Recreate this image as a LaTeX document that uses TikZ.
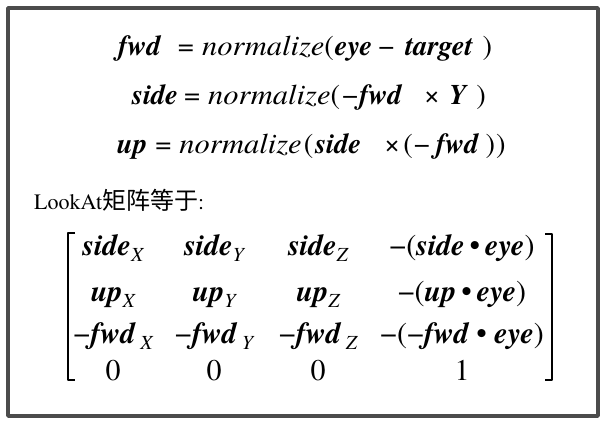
\documentclass[tikz,border=0pt]{standalone}
\usepackage{fontspec}
\newfontfamily\timesfont{texgyretermes}[Extension=.otf, UprightFont=*-regular, BoldFont=*-bold, ItalicFont=*-italic, BoldItalicFont=*-bolditalic]
\newfontfamily\widefont{texgyretermes}[Extension=.otf, UprightFont=*-italic, FakeStretch=1.07]
\newfontfamily\cjkfont{Noto Sans CJK SC}
% bold italic vector names, plain italic function name, small index letters
\newcommand{\vb}[1]{{\bfseries\itshape #1}}
\newcommand{\nrm}{{\widefont normalize}}
\newcommand{\idx}[1]{\raisebox{-0.2em}{\fontsize{20}{20}\selectfont\itshape #1}}
\tikzset{
  eqn/.style={anchor=base west, inner sep=0pt, font=\timesfont\fontsize{28.5}{34}\selectfont},
  cell/.style={anchor=base, inner sep=0pt, font=\timesfont\fontsize{30}{36}\selectfont},
  caption/.style={anchor=base west, inner sep=0pt, font=\timesfont\fontsize{22}{26}\selectfont}
}
\begin{document}
\begin{tikzpicture}[x=1pt, y=-1pt, line join=round, line cap=round]
	% Define parameters
	\def\colA{113} % column centres of the matrix
	\def\colB{214}
	\def\colC{318}
	\def\colD{462}
	
	% Page and frame
	\fill[white] (0,0) rectangle (606,424);
	\useasboundingbox (0,0) rectangle (606,424);
	\draw[line width=3.5pt, black!70] (8,8) rectangle (598,416);
	
	% The three equations
	\node[eqn] (fwdeq) at (118,55) {\vb{fwd}\hspace{17pt}=\hspace{8pt}\nrm(\hspace{1pt}\vb{eye}\hspace{6pt}−\hspace{11pt}\vb{target}\hspace{10pt})};
	\node[eqn] (sideeq) at (132,104) {\vb{side}\hspace{6pt}=\hspace{8pt}\nrm(\hspace{2pt}−\hspace{1pt}\vb{fwd}\hspace{22pt}×\hspace{9pt}\vb{Y}\hspace{10pt})};
	\node[eqn] (upeq) at (117,153) {\vb{up}\hspace{8pt}=\hspace{8pt}\nrm\hspace{2pt}(\hspace{2pt}\vb{side}\hspace{23pt}×\hspace{3pt}(\hspace{1pt}−\hspace{6pt}\vb{fwd}\hspace{7pt})\hspace{1pt})};
	
	% Caption line
	\node[caption] (lookat) at (34,209) {LookAt{\cjkfont\fontsize{24}{28}\selectfont 矩阵等于}:};
	
	% Matrix entries, row by row
	\node[cell] (m11) at (\colA,255) {\vb{side}\idx{X}};
	\node[cell] (m12) at (\colB,255) {\vb{side}\idx{Y}};
	\node[cell] (m13) at (\colC,255) {\vb{side}\idx{Z}};
	\node[cell] (m14) at (\colD,255) {−(\vb{side}\,•\,\vb{eye})};
	
	\node[cell] (m21) at (\colA,301) {\vb{up}\idx{X}};
	\node[cell] (m22) at (\colB,301) {\vb{up}\idx{Y}};
	\node[cell] (m23) at (\colC,301) {\vb{up}\idx{Z}};
	\node[cell] (m24) at (\colD,301) {−(\vb{up}\,•\,\vb{eye})};
	
	\node[cell] (m31) at (\colA,343) {−\vb{fwd}\,\idx{X}};
	\node[cell] (m32) at (\colB,343) {−\vb{fwd}\,\idx{Y}};
	\node[cell] (m33) at (\colC,343) {−\vb{fwd}\,\idx{Z}};
	\node[cell] (m34) at (\colD,343) {−(−\vb{fwd} • \vb{eye})};
	
	\node[cell] (m41) at (\colA,380) {0};
	\node[cell] (m42) at (\colB,380) {0};
	\node[cell] (m43) at (\colC,380) {0};
	\node[cell] (m44) at (\colD,380) {1};
	
	% Bracket corners
	\coordinate (LT) at (68,233); % left bracket, top
	\coordinate (LB) at (68,380); % left bracket, bottom
	\coordinate (RT) at (552,234); % right bracket, top
	\coordinate (RB) at (552,380); % right bracket, bottom
	
	% Draw the brackets
	\draw[line width=2.5pt, line cap=butt] ([xshift=7pt]LT) -- (LT) -- (LB) -- ([xshift=7pt]LB);
	\draw[line width=2.5pt, line cap=butt] ([xshift=-7pt]RT) -- (RT) -- (RB) -- ([xshift=-7pt]RB);
\end{tikzpicture}
\end{document}
